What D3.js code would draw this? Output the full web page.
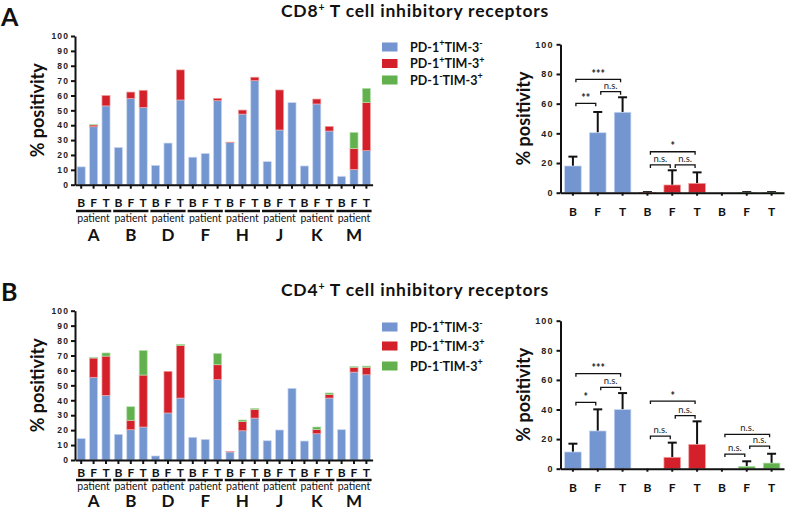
<!DOCTYPE html>
<html><head><meta charset="utf-8">
<script src="https://cdn.jsdelivr.net/npm/d3@7"></script>
<style>body{margin:0;background:#fff} svg{display:block}</style>
</head><body><svg id="c" width="787" height="518"></svg>
<script>
// ---------------- DATA ----------------
const patients = ["A","B","D","F","H","J","K","M"];
const timepoints = ["B","F","T"];
const seriesKeys = ["blue","red","green"];
const cd8Blue  = [12,39,53, 25,58,52, 13,28,57, 18.5,21,56.5, 28.3,47.5,70, 15.5,36.8,55.2, 12.6,54.3,36.1, 5.6,10.3,22.9];
const cd8Red   = [0,1.2,7, 0,4.3,11.5, 0,0,20.2, 0,0,1.6, 0.3,2.7,2.3, 0,26.9,0, 0,3.3,3.1, 0,14.1,32.5];
const cd8Green = [0,0.3,0, 0,0,0, 0,0,0, 0,0,0, 0,0,0, 0,0,0, 0,0,0, 0,10.8,9.4];
const cd4Blue  = [14.3,55.4,43.3, 17.2,20.3,22.1, 2.7,31.5,41.5, 15.2,13.8,54, 5.4,19.6,28.1, 12.9,20.1,48, 12.7,17.6,41.5, 20.3,58.9,57.1];
const cd4Red   = [0,12.9,26.3, 0,6.3,34.8, 0,27.9,35.1, 0,0,9.8, 0.4,6.1,5.8, 0,0,0, 0,2.9,2.3, 0,3.2,5];
const cd4Green = [0,0.5,2.1, 0,9.1,16.5, 0,0,0.9, 0,0,7.6, 0,1.1,0.7, 0,0,0, 0,1.6,1.1, 0,0.6,0.8];
const summaryGroups = ["blue","blue","blue","red","red","red","green","green","green"];
const summaryLabels = ["B","F","T","B","F","T","B","F","T"];
const cd8Mean = [18,40.4,54.2, 0.2,5.2,6.3, 0,0.1,0.1];
const cd8Sd   = [6.3,14,10.1, 0.2,9.9,7.4, 0,0.3,0.3];
const cd4Mean = [11.3,25.5,39.9, 0,7.7,16.4, 0,1.6,3.8];
const cd4Sd   = [5.6,14.6,11.2, 0,9.9,15.6, 0,3.4,6.3];
const cd8Sig = [[0,1,60.2,"**"],[0,2,76.4,"***"],[1,2,68.1,"n.s."],[3,4,18.7,"n.s."],[4,5,18.7,"n.s."],[3,5,27.6,"*"]];
const cd4Sig = [[0,1,44.8,"*"],[0,2,64.2,"***"],[1,2,55,"n.s."],[3,4,22,"n.s."],[4,5,35.8,"n.s."],[3,5,45.7,"*"],[6,7,9.9,"n.s."],[7,8,15.3,"n.s."],[6,8,23.2,"n.s."]];
const leftTicks = d3.range(0,101,10);
const rightTicks = [0,20,40,60,80,100];
const legendItems = [
  {key:"blue", parts:[["PD-1",0],["+",1],["TIM-3",0],["-",1]]},
  {key:"red", parts:[["PD-1",0],["+",1],["TIM-3",0],["+",1]]},
  {key:"green", parts:[["PD-1",0],["-",1],["TIM-3",0],["+",1]]}
];
// ---------------- STYLE ----------------
const colors = {blue:"#7396d0", red:"#d3202a", green:"#62b14e"};
const strokes = {blue:"#c9d7f0", red:"#f0a0a0", green:"#b8e0b0"};
const FT = "Lato, 'Open Sans', sans-serif";
const svg = d3.select("#c");

function rich(sel, parts, sz, supScale=0.72, supShift=0.42){
  parts.forEach(([t,sup],i)=>{
    let dy = 0;
    const prevSup = i>0 && parts[i-1][1];
    if(sup && !prevSup) dy = -sz*supShift;
    if(!sup && prevSup) dy = sz*supShift;
    sel.append("tspan").text(t)
      .attr("font-size", sup? sz*supScale : sz)
      .attr("dy", dy);
  });
}

function styleAxis(g){
  g.selectAll("path,line").attr("stroke","#111").attr("stroke-width",2);
  g.selectAll("text").attr("font-family","'Liberation Sans', Arial, sans-serif").attr("font-weight","bold")
    .attr("font-size",8.5).attr("letter-spacing",1.1).attr("fill","#222");
}

// ---------------- LEFT STACKED PANEL ----------------
function stackedPanel(cfg){
  const n = cfg.blue.length;
  const rows = d3.range(n).map(i=>({i, blue:cfg.blue[i], red:cfg.red[i], green:cfg.green[i]}));
  const stack = d3.stack().keys(seriesKeys)(rows);
  const x = d3.scaleBand().domain(d3.range(n)).range([75, 372.6]).paddingInner(0.35).paddingOuter(0.175);
  const y = d3.scaleLinear().domain([0,100]).range([cfg.y0, cfg.y100]);
  const g = svg.append("g");
  stack.forEach(layer=>{
    g.append("g").selectAll("rect").data(layer.filter(d=>d[1]-d[0]>0)).join("rect")
      .attr("x", d=>x(d.data.i)).attr("width", x.bandwidth())
      .attr("y", d=>y(d[1])).attr("height", d=>y(d[0])-y(d[1]))
      .attr("fill", colors[layer.key]).attr("stroke", strokes[layer.key]).attr("stroke-width",0.7);
  });
  const ya = g.append("g").attr("transform",`translate(75,0)`)
    .call(d3.axisLeft(y).tickValues(leftTicks).tickSize(4).tickSizeOuter(0).tickPadding(2));
  styleAxis(ya);
  const xa = g.append("g").attr("transform",`translate(0,${cfg.y0})`)
    .call(d3.axisBottom(x).tickSize(4).tickSizeOuter(0).tickFormat(""));
  styleAxis(xa);
  g.append("g").selectAll("text").data(d3.range(n)).join("text")
    .attr("x", i=>x(i)+x.bandwidth()/2).attr("y", cfg.lblY).attr("text-anchor","middle")
    .attr("font-family",FT).attr("font-weight","bold").attr("font-size",12).attr("fill","#111")
    .text(i=>timepoints[i%3]);
  const step = x.step();
  patients.forEach((p,k)=>{
    const x0 = x(k*3) - step*0.175 + 1, x1 = x(k*3+2) + x.bandwidth() + step*0.175 - 1;
    g.append("line").attr("x1",x0).attr("x2",x1).attr("y1",cfg.lineY).attr("y2",cfg.lineY)
      .attr("stroke","#111").attr("stroke-width",2.5);
    g.append("text").attr("x",(x0+x1)/2).attr("y",cfg.patY).attr("text-anchor","middle")
      .attr("font-family",FT).attr("font-size",10.5).attr("fill","#111").text("patient");
    g.append("text").attr("x",(x0+x1)/2).attr("y",cfg.letY).attr("text-anchor","middle")
      .attr("font-family",FT).attr("font-weight","bold").attr("font-size",17).attr("fill","#111").text(p);
  });
  svg.append("text").attr("transform",`translate(44,${(cfg.y0+cfg.y100)/2}) rotate(-90)`)
    .attr("text-anchor","middle").attr("font-family",FT).attr("font-weight","bold").attr("font-size",18)
    .attr("fill","#111").text("% positivity");
  legendItems.forEach((it,k)=>{
    const cy = cfg.legY[k];
    svg.append("rect").attr("x",382).attr("y",cy-4.5).attr("width",15.5).attr("height",9).attr("fill",colors[it.key]);
    const t = svg.append("text").attr("x",410).attr("y",cy+4.5).attr("font-family",FT).attr("font-weight","bold").attr("fill","#111");
    rich(t, it.parts, 12.5);
  });
}

// ---------------- RIGHT SUMMARY PANEL ----------------
function summaryPanel(cfg){
  const n = cfg.mean.length;
  const x = d3.scaleBand().domain(d3.range(n)).range([560.5, 784]).paddingInner(0.33).paddingOuter(0.165);
  const y = d3.scaleLinear().domain([0,100]).range([cfg.y0, cfg.y100]);
  const g = svg.append("g");
  const cx = i=>x(i)+x.bandwidth()/2;
  g.append("g").selectAll("g").data(d3.range(n)).join("g").each(function(i){
    if(cfg.sd[i]<=0) return;
    const top = cfg.mean[i]+cfg.sd[i];
    const s = d3.select(this);
    s.append("line").attr("x1",cx(i)).attr("x2",cx(i)).attr("y1",y(cfg.mean[i])).attr("y2",y(top)).attr("stroke","#111").attr("stroke-width",2);
    s.append("line").attr("x1",cx(i)-4.5).attr("x2",cx(i)+4.5).attr("y1",y(top)).attr("y2",y(top)).attr("stroke","#111").attr("stroke-width",2);
  });
  g.append("g").selectAll("rect").data(d3.range(n).filter(i=>cfg.mean[i]>0)).join("rect")
    .attr("x",i=>x(i)).attr("width",x.bandwidth())
    .attr("y",i=>y(cfg.mean[i])).attr("height",i=>y(0)-y(cfg.mean[i]))
    .attr("fill",i=>colors[summaryGroups[i]]).attr("stroke",i=>strokes[summaryGroups[i]]).attr("stroke-width",0.7);
  const ya = g.append("g").attr("transform",`translate(560.5,0)`)
    .call(d3.axisLeft(y).tickValues(rightTicks).tickSize(4).tickSizeOuter(0).tickPadding(3));
  styleAxis(ya);
  ya.selectAll("text").attr("font-size",9);
  const xa = g.append("g").attr("transform",`translate(0,${cfg.y0})`)
    .call(d3.axisBottom(x).tickSize(3).tickSizeOuter(0).tickFormat(""));
  styleAxis(xa);
  g.append("g").selectAll("text").data(d3.range(n)).join("text")
    .attr("x",cx).attr("y",cfg.lblY).attr("text-anchor","middle")
    .attr("font-family",FT).attr("font-weight","bold").attr("font-size",12).attr("fill","#111")
    .text(i=>summaryLabels[i]);
  cfg.sig.forEach(([a,b,v,lab])=>{
    const x0 = cx(a)+3, x1 = cx(b)-2, yy = y(v);
    g.append("path").attr("d",`M${x0},${yy+3}V${yy}H${x1}V${yy+3}`).attr("fill","none").attr("stroke","#111").attr("stroke-width",1.3);
    g.append("text").attr("x",(x0+x1)/2).attr("y", lab.startsWith("*") ? yy-1.5 : yy-3)
      .attr("text-anchor","middle").attr("font-family",FT).attr("font-weight", lab.startsWith("*")?"bold":"normal")
      .attr("font-size", lab.startsWith("*")?10.5:9.5).attr("fill","#222").text(lab);
  });
  svg.append("text").attr("transform",`translate(530,${(cfg.y0+cfg.y100)/2}) rotate(-90)`)
    .attr("text-anchor","middle").attr("font-family",FT).attr("font-weight","bold").attr("font-size",18)
    .attr("fill","#111").text("% positivity");
}

// ---------------- TITLES ----------------
function title(yb, parts){
  const t = svg.append("text").attr("x",415).attr("y",yb).attr("text-anchor","middle")
    .attr("font-family",FT).attr("font-weight","bold").attr("letter-spacing",0.8).attr("fill","#111");
  rich(t, parts, 17.5, 0.6, 0.33);
}
title(17, [["CD8",0],["+",1],[" T cell inhibitory receptors",0]]);
title(296, [["CD4",0],["+",1],[" T cell inhibitory receptors",0]]);
svg.append("text").attr("x",1).attr("y",26).attr("font-family",FT).attr("font-weight","bold").attr("font-size",25).attr("fill","#111").text("A");
svg.append("text").attr("x",1).attr("y",301).attr("font-family",FT).attr("font-weight","bold").attr("font-size",25).attr("fill","#111").text("B");

stackedPanel({blue:cd8Blue, red:cd8Red, green:cd8Green, y0:184.7, y100:36, lblY:207, lineY:211, patY:222, letY:241, legY:[47,63.5,80]});
stackedPanel({blue:cd4Blue, red:cd4Red, green:cd4Green, y0:460, y100:310.7, lblY:476.5, lineY:480, patY:490, letY:507, legY:[327,346,366]});
summaryPanel({mean:cd8Mean, sd:cd8Sd, sig:cd8Sig, y0:192.7, y100:44.3, lblY:216});
summaryPanel({mean:cd4Mean, sd:cd4Sd, sig:cd4Sig, y0:468.7, y100:320.7, lblY:492});
</script></body></html>
